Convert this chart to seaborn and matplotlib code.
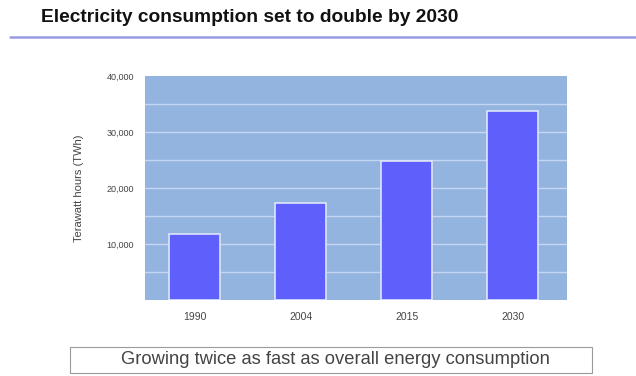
import matplotlib
matplotlib.use("Agg")
import matplotlib.pyplot as plt
import seaborn as sns
import pandas as pd

years = ["1990", "2004", "2015", "2030"]
consumption = [11800, 17300, 24900, 33800]
yticks = [10000, 20000, 30000, 40000]
ytick_labels = ["10,000", "20,000", "30,000", "40,000"]

df = pd.DataFrame({"year": years, "twh": consumption})

sns.set_theme(style="white")
plt.rcParams["font.family"] = ["Liberation Sans", "DejaVu Sans"]

fig = plt.figure(figsize=(6.36, 3.76), dpi=100)
ax = fig.add_axes([145/636, 1-300/376, (567-145)/636, (300-76)/376])
ax.set_facecolor("#93b4df")

for y in range(5000, 40000, 5000):
    ax.axhline(y, color="#c4d6f2", lw=1.0, zorder=0)

sns.barplot(data=df, x="year", y="twh", color="#5f5ffb", saturation=1,
            width=0.48, edgecolor="#dde6fb", linewidth=1.2, ax=ax, zorder=2)

ax.set_ylim(0, 40000)
ax.set_xlim(-0.47, 3.51)
ax.set_yticks(yticks)
ax.set_yticklabels(ytick_labels, fontsize=6.5, color="#444444")
ax.tick_params(axis="x", labelsize=7.5, colors="#444444", pad=9, length=0)
ax.tick_params(axis="y", length=0, pad=8)
ax.set_xlabel("")
ax.set_ylabel("Terawatt hours (TWh)", fontsize=8, color="#444444", labelpad=16)
for s in ax.spines.values():
    s.set_visible(False)

fig.text(250/636, 1-17/376, "Electricity consumption set to double by 2030",
         ha="center", va="center", fontsize=13.8, fontweight="bold", color="#111111")
fig.add_artist(plt.Line2D([10/636, 1.0], [1-37/376, 1-37/376],
                          color="#9a9ae6", lw=1.8))

fig.text(335/636, 1-360/376, "Growing twice as fast as overall energy consumption",
         ha="center", va="center", fontsize=13.2, color="#444444")
fig.add_artist(plt.Rectangle((70/636, 1-373/376), (592-70)/636, 26/376,
                             transform=fig.transFigure, fill=False,
                             ec="#9a9a9a", lw=0.8))

fig.savefig("out.png", dpi=100)
